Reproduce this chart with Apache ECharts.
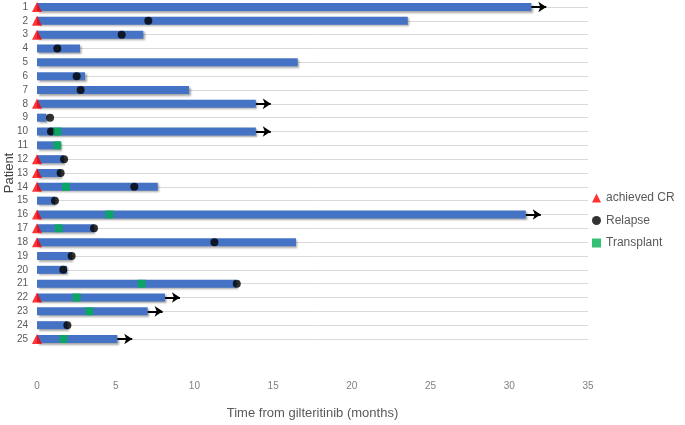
<!DOCTYPE html>
<html><head><meta charset="utf-8">
<script src="https://cdn.jsdelivr.net/npm/echarts@6/dist/echarts.min.js"></script>
<style>html,body{margin:0;padding:0;background:#fff}#c{width:685px;height:425px}</style>
</head><body><div id="c"></div>
<script>
// Patients 1..25 (row labels)
const patients = [1,2,3,4,5,6,7,8,9,10,11,12,13,14,15,16,17,18,19,20,21,22,23,24,25];
// Duration of follow-up bar (months) per patient
const barEnd = [31.4, 23.55, 6.75, 2.73, 16.56, 3.05, 9.66, 13.9, 0.6, 13.9, 1.5, 1.7, 1.5, 7.67, 1.14, 31.05, 3.62, 16.45, 2.2, 1.9, 12.65, 8.13, 7.03, 1.93, 5.1];
// Patients who achieved CR (marker at time 0)
const crPatients = [1,2,3,8,12,13,14,16,17,18,22,25];
// Relapse: patient, time
const relapsePatients = [2,3,4,6,7,9,10,12,13,14,15,17,18,19,20,21,24];
const relapseTimes = [7.07,5.38,1.29,2.52,2.77,0.83,0.89,1.72,1.5,6.18,1.14,3.62,11.27,2.2,1.67,12.69,1.93];
// Transplant: patient, time
const transplantPatients = [10,11,14,16,17,21,22,23,25];
const transplantTimes = [1.29,1.29,1.84,4.6,1.38,6.65,2.52,3.32,1.67];
// Ongoing (arrow) patients
const ongoingPatients = [1,8,10,16,22,23,25];
const arrowLen = 0.95;
const xTicks = [0,5,10,15,20,25,30,35];

const chart = echarts.init(document.getElementById('c'));
const font = 'Liberation Sans, Arial, sans-serif';
chart.setOption({
  animation:false,
  grid:{left:37, right:97, top:7, bottom:86, containLabel:false, outerBoundsMode:'none'},
  graphic:[{type:'text', x:9, y:173, rotation:Math.PI/2,
    style:{text:'Patient', fill:'#404040', font:'13px Liberation Sans, Arial, sans-serif', textAlign:'center', textVerticalAlign:'middle'}}],
  xAxis:{type:'value', min:xTicks[0], max:xTicks[xTicks.length-1], interval:5,
    axisLine:{show:false}, axisTick:{show:false}, splitLine:{show:false},
    axisLabel:{color:'#808080', fontSize:10, margin:42, fontFamily:font},
    name:'Time from gilteritinib (months)', nameLocation:'middle', nameGap:68,
    nameTextStyle:{color:'#595959', fontSize:13, fontFamily:font}},
  yAxis:{type:'value', min:1, max:25, interval:1, inverse:true,
    axisLine:{show:false}, axisTick:{show:false},
    splitLine:{show:true, lineStyle:{color:'#d9d9d9', width:1}},
    axisLabel:{color:'#595959', fontSize:10, margin:9, fontFamily:font,
      formatter:v=>patients.includes(v)?String(v):''}},
  legend:{orient:'vertical', left:587, top:187, itemGap:10.5, itemWidth:9, itemHeight:9,
    textStyle:{color:'#595959', fontSize:12, fontFamily:font},
    data:['achieved CR','Relapse','Transplant']},
  series:[
    {type:'custom', name:'bars', clip:false, z:2,
     data: patients.map((p,i)=>[barEnd[i], p]),
     renderItem:(params, api)=>{
       const a = api.coord([0, api.value(1)]);
       const b = api.coord([api.value(0), api.value(1)]);
       const h = 8;
       return {type:'rect', shape:{x:a[0], y:a[1]-h/2, width:b[0]-a[0], height:h},
         style:{fill:'#4472C4', shadowBlur:2, shadowOffsetX:1.5, shadowOffsetY:1.5, shadowColor:'rgba(0,0,0,0.35)'}};
     }},
    {type:'lines', coordinateSystem:'cartesian2d', z:3, clip:false,
     symbol:['none','arrow'], symbolSize:[0,8],
     lineStyle:{color:'#000', width:2, opacity:1},
     data: ongoingPatients.map(p=>({coords:[[barEnd[p-1], p],[barEnd[p-1]+arrowLen, p]]}))},
    {type:'scatter', name:'achieved CR', symbol:'triangle', symbolSize:[10,10], clip:false, z:4,
     itemStyle:{color:'#FF0000'},
     data: crPatients.map(p=>[0,p])},
    {type:'scatter', name:'Relapse', symbol:'circle', symbolSize:8, clip:false, z:5,
     itemStyle:{color:'#000000'},
     data: relapsePatients.map((p,i)=>[relapseTimes[i],p])},
    {type:'scatter', name:'Transplant', symbol:'rect', symbolSize:8, clip:false, z:6,
     itemStyle:{color:'#00B050'},
     data: transplantPatients.map((p,i)=>[transplantTimes[i],p])}
  ]
});
</script></body></html>
